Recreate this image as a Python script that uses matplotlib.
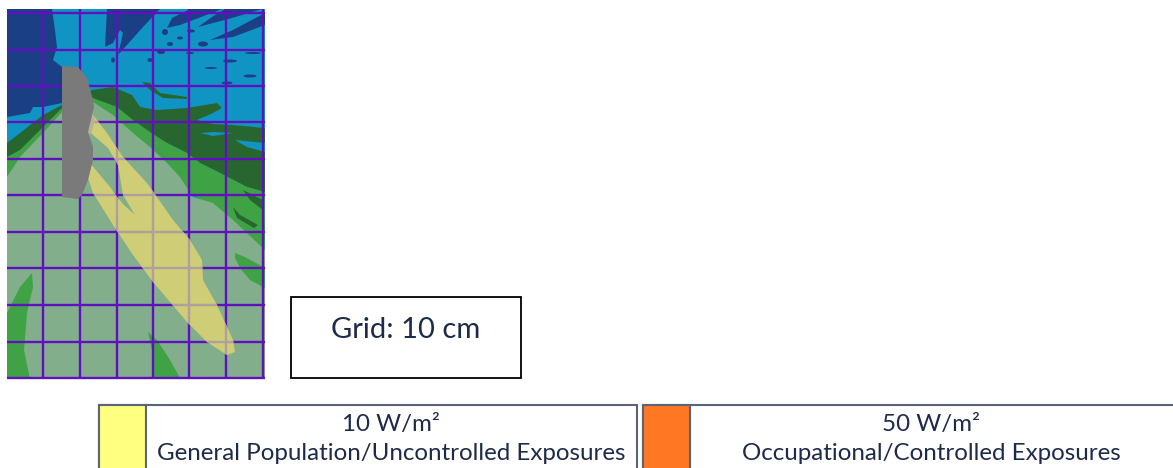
# exposure map, everything in image pixels
import matplotlib
matplotlib.use('Agg')
import matplotlib.pyplot as plt
from matplotlib.patches import Polygon, Rectangle, Ellipse

plt.rcParams['font.family'] = ['Lato', 'DejaVu Sans']

# contour outlines
dark_blue_left = [(7,9),(52,9),(55,30),(57,47),(53,60),(62,67),(62,103),(43,107),(33,107),(30,113),(7,117)]
dark_blue_top = [(107,9),(160,9),(143,27),(118,55),(123,33),(120,30),(113,43),(105,47)]
dark_blue_ray1 = [(167,28),(172,18),(190,9),(222,9),(180,25)]
dark_blue_ray2 = [(198,27),(215,15),(225,9),(262,9),(232,18)]
dark_blue_ray3 = [(210,40),(233,30),(265,13),(265,25),(233,37)]
dark_green_area = [(7,157),(7,143),(20,133),(43,115),(62,105),(92,90),(113,87),(132,95),(140,107),(157,110),
                   (187,108),(217,103),(222,108),(213,113),(197,120),(213,124),(233,125),(265,128),
                   (265,192),(247,187),(220,173),(200,163),(187,153),(167,143),(148,135)]
green_area = [(7,177),(7,157),(20,150),(43,127),(62,108),(93,98),(117,107),(133,120),(150,132),(167,143),
              (187,153),(200,163),(220,173),(247,187),(265,192),(265,252),(233,222),(190,192),(150,150)]
sage_area = [(7,379),(7,177),(20,157),(43,133),(62,112),(93,102),(113,115),(133,133),(150,147),(167,163),
             (180,177),(193,197),(213,203),(233,220),(265,250),(265,379)]
green_low_right = [(235,253),(245,257),(265,268),(265,288),(250,280),(240,268),(235,258)]
green_low_left = [(32,273),(33,287),(27,313),(24,350),(30,379),(7,379),(7,313),(20,287)]
green_low_mid = [(148,332),(157,340),(170,360),(180,378),(153,378),(152,350)]
green_streak = [(142,82),(150,83),(160,93),(187,97),(187,99),(163,98),(150,90)]
dark_flecks = [(233,207),(240,215),(258,225),(254,228),(237,218)], [(243,190),(263,200),(263,210),(250,200)]
blue_patches = [(200,133),(213,132),(233,133),(213,136)], [(235,140),(265,143),(265,152),(247,147)], [(250,192),(262,193),(262,196),(252,195)]
yellow_plume = [(93,115),(107,133),(123,157),(147,183),(157,197),(173,220),(190,240),(202,260),(203,280),(217,305),
                (233,340),(235,352),(227,355),(207,342),(187,322),(153,282),(133,255),(113,225),(93,193),(88,178),
                (90,163),(110,187),(117,197),(124,205),(135,215),(123,195),(118,165),(108,148),(93,135),(88,130)]
tan_edge = [(88,133),(92,113),(95,120),(91,134)]
gray_body = [(62,66),(78,67),(87,78),(93,100),(94,107),(92,115),(88,132),(93,147),(93,160),(88,180),(82,195),
             (78,199),(70,198),(62,197)]

# small blue flecks: centre x, centre y, width, height
fleck_x = [165,191,180,170,203,161,190,253,113,150,230,211,250,227]
fleck_y = [32,31,38,44,44,52,53,53,60,60,61,68,76,83]
fleck_w = [6,8,6,6,10,8,8,16,4,5,14,12,13,11]
fleck_h = [6,3,3,4,5,4,2,2,5,4,3,2,3,3]

# grid lines
grid_x = [43,80,117,153,189,226,263]
grid_y = [13,50,86,122,159,195,232,268,305,342,378]

# labels
grid_label = 'Grid: 10 cm'
legend_levels = ['10 W/m²', '50 W/m²']
legend_groups = ['General Population/Uncontrolled Exposures', 'Occupational/Controlled Exposures']
legend_colors = ['#FFFF80', '#FF7722']
legend_left = [99, 643]
legend_right = [637, 1180]

fig = plt.figure(figsize=(11.73, 4.68), dpi=100)
ax = fig.add_axes([0, 0, 1, 1])
ax.set_xlim(0, 1173)
ax.set_ylim(468, 0)
ax.axis('off')

BLUE, DARK_BLUE = '#0F94C4', '#1B3F85'
DARK_GREEN, GREEN, SAGE = '#27672F', '#3FA244', '#82AE8C'
YELLOW, GRID, TEXT, EDGE = '#CFCD75', '#6010BE', '#1E2A4A', '#5A6478'

ax.add_patch(Rectangle((7, 9), 258, 370, fc=BLUE, ec='none', zorder=1))
for pts in [dark_blue_left, dark_blue_top, dark_blue_ray1, dark_blue_ray2, dark_blue_ray3]:
    ax.add_patch(Polygon(pts, fc=DARK_BLUE, ec='none', zorder=2))
for cx, cy, w, h in zip(fleck_x, fleck_y, fleck_w, fleck_h):
    ax.add_patch(Ellipse((cx, cy), w, h, fc=DARK_BLUE, ec='none', zorder=2))
ax.add_patch(Polygon(dark_green_area, fc=DARK_GREEN, ec='none', zorder=3))
ax.add_patch(Polygon(green_streak, fc=DARK_GREEN, ec='none', zorder=3))
for pts in blue_patches:
    ax.add_patch(Polygon(pts, fc=BLUE, ec='none', zorder=3.5))
ax.add_patch(Polygon(green_area, fc=GREEN, ec='none', zorder=4))
for pts in dark_flecks:
    ax.add_patch(Polygon(pts, fc=DARK_GREEN, ec='none', zorder=5))
ax.add_patch(Polygon(sage_area, fc=SAGE, ec='none', zorder=4.5))
for pts in [green_low_right, green_low_left, green_low_mid]:
    ax.add_patch(Polygon(pts, fc=GREEN, ec='none', zorder=5))

for x in grid_x:
    ax.plot([x, x], [9, 379], color=GRID, lw=1.7, zorder=6, solid_capstyle='butt')
for y in grid_y:
    ax.plot([7, 265], [y, y], color=GRID, lw=1.7, zorder=6, solid_capstyle='butt')

plume = Polygon(yellow_plume, fc=YELLOW, ec='none', zorder=7)
ax.add_patch(plume)
# grid shows through the plume as grey
for x in grid_x:
    ln, = ax.plot([x, x], [9, 379], color='#AFA0A0', lw=1.7, zorder=8, solid_capstyle='butt')
    ln.set_clip_path(plume)
for y in grid_y:
    ln, = ax.plot([7, 265], [y, y], color='#AFA0A0', lw=1.7, zorder=8, solid_capstyle='butt')
    ln.set_clip_path(plume)
ax.add_patch(Polygon(tan_edge, fc='#B5B29A', ec='none', zorder=9))
ax.add_patch(Polygon(gray_body, fc='#7A7A7A', ec='none', zorder=10))

# grid size note
ax.add_patch(Rectangle((291, 297), 230, 81, fc='white', ec='black', lw=1.3, zorder=2))
ax.text(405.5, 330, grid_label, fontsize=21, color=TEXT, ha='center', va='center', zorder=3)

# legend boxes run off the bottom edge
for i in range(2):
    x0, x1 = legend_left[i], legend_right[i]
    ax.add_patch(Rectangle((x0, 405), x1 - x0, 80, fc='white', ec=EDGE, lw=1.5, zorder=2))
    ax.add_patch(Rectangle((x0, 405), 47, 80, fc=legend_colors[i], ec=EDGE, lw=1.5, zorder=3))
    cx = (x0 + 47 + min(x1, 1173)) / 2
    ax.text(cx, 424, legend_levels[i], fontsize=17.4, color=TEXT, ha='center', va='center', zorder=4)
    ax.text(cx, 454, legend_groups[i], fontsize=17.4, color=TEXT, ha='center', va='center', zorder=4)

fig.savefig('out.png', dpi=100)
